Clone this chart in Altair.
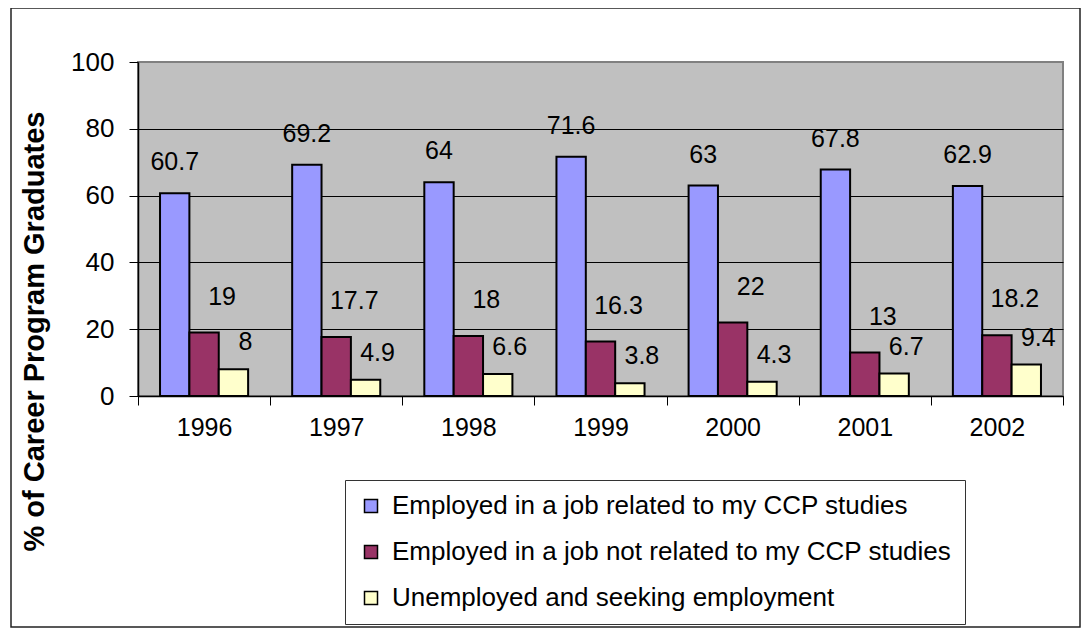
import altair as alt
import pandas as pd

years = ["1996", "1997", "1998", "1999", "2000", "2001", "2002"]
series = [
    "Employed in a job related to my CCP studies",
    "Employed in a job not related to my CCP studies",
    "Unemployed and seeking employment",
]
related = [60.7, 69.2, 64, 71.6, 63, 67.8, 62.9]
not_related = [19, 17.7, 18, 16.3, 22, 13, 18.2]
unemployed = [8, 4.9, 6.6, 3.8, 4.3, 6.7, 9.4]
colors = ["#9999FF", "#993366", "#FFFFCC"]
y_ticks = [0, 20, 40, 60, 80, 100]

rows = []
for i, yr in enumerate(years):
    for s, vals in zip(series, [related, not_related, unemployed]):
        rows.append({"year": yr, "series": s, "value": vals[i]})
df = pd.DataFrame(rows)

FONT = "Liberation Sans"

x_enc = alt.X(
    "year:N",
    sort=years,
    scale=alt.Scale(paddingInner=0, paddingOuter=0),
    axis=alt.Axis(
        title=None, labelAngle=0, tickBand="extent", tickSize=9, labelPadding=10,
        labelFontSize=25, labelFont=FONT, labelColor="black",
        domainColor="black", tickColor="black", domainWidth=1.5, tickWidth=1, grid=False,
    ),
)
xoff_enc = alt.XOffset(
    "series:N", sort=series,
    scale=alt.Scale(domain=series, paddingOuter=0.75, paddingInner=0),
)
y_enc = alt.Y(
    "value:Q",
    scale=alt.Scale(domain=[0, 100]),
    axis=alt.Axis(
        values=y_ticks, title="% of Career Program Graduates",
        titleFontSize=29, titleFontWeight="bold", titleFont=FONT, titleColor="black",
        titleX=-104, titleY=269, titleAngle=270, titleAlign="center", titleBaseline="middle",
        tickSize=9, labelPadding=15, labelFontSize=26, labelFont=FONT, labelColor="black",
        gridColor={"condition": {"test": "datum.value === 100", "value": "#808080"}, "value": "black"},
        gridWidth=1, domainColor="black", domainWidth=1.5, tickColor="black",
    ),
)
color_enc = alt.Color(
    "series:N",
    scale=alt.Scale(domain=series, range=colors),
    legend=alt.Legend(
        title=None, orient="none", legendX=207, legendY=418, direction="vertical",
        symbolType="square", symbolSize=169, symbolStrokeColor="black", symbolStrokeWidth=1.5,
        labelFontSize=26, labelFont=FONT, labelColor="black", labelLimit=0,
        padding=13, rowPadding=20, labelOffset=8,
        strokeColor="#333333", fillColor="white",
    ),
)

base = alt.Chart(df)
bars = base.mark_bar(stroke="black", strokeWidth=2).encode(
    x=x_enc, xOffset=xoff_enc, y=y_enc, color=color_enc
)

offsets = [(0, -31), (18, -36), (12, -27)]
texts = []
for s, (dx, dy) in zip(series, offsets):
    texts.append(
        base.transform_filter(alt.datum.series == s)
        .mark_text(dx=dx, dy=dy, baseline="middle", align="center", fontSize=25, font=FONT, color="black")
        .encode(x=x_enc, xOffset=xoff_enc, y=y_enc, text="value:Q")
    )

border = alt.Chart(pd.DataFrame({"a": [0]})).mark_rect(
    fill="transparent", stroke="#222222", strokeWidth=1.5
).encode(x=alt.value(-127), x2=alt.value(942), y=alt.value(-54), y2=alt.value(565))

chart = alt.layer(border, bars, *texts).properties(
    width=925, height=334,
    padding={"left": 130, "top": 54, "right": 18, "bottom": 232},
    autosize=alt.AutoSizeParams(type="none"),
    background="white",
).configure_view(
    fill="#C0C0C0", stroke="#808080", strokeWidth=2
)

chart.save("out.html", embed_options={"renderer": "svg", "actions": False})
